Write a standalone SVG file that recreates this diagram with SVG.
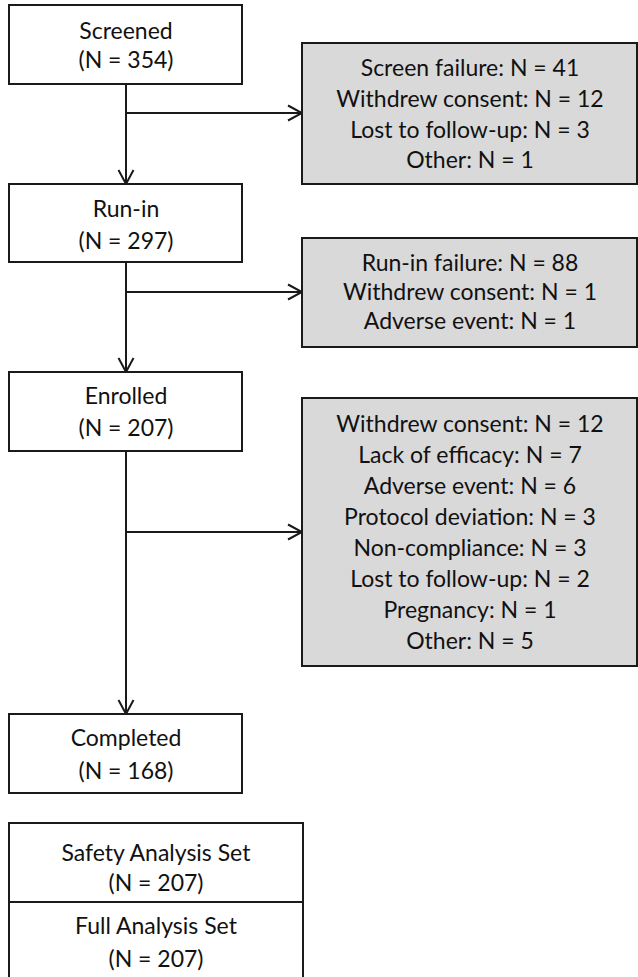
<svg xmlns="http://www.w3.org/2000/svg" width="638" height="977" viewBox="0 0 638 977">
<style>
.box{fill:#ffffff;stroke:#1a1a1a;stroke-width:2}
.gbox{fill:#d9d9d9;stroke:#1a1a1a;stroke-width:2}
.t{font-family:Lato,"Liberation Sans",sans-serif;font-size:23px;fill:#111;text-anchor:middle}
.c{stroke:#1a1a1a;stroke-width:2;fill:none}
</style>
<defs>
<marker id="arr" markerUnits="userSpaceOnUse" viewBox="0 0 18 18" markerWidth="18" markerHeight="18" refX="16" refY="9" orient="auto">
<path d="M2,1.5 L16,9 L2,16.5" fill="none" stroke="#1a1a1a" stroke-width="2"/>
</marker>
</defs>
<rect width="638" height="977" fill="#ffffff"/>
<g id="connectors">
<line class="c" x1="126" y1="84" x2="126" y2="184" marker-end="url(#arr)"/>
<line class="c" x1="126" y1="113" x2="302" y2="113" marker-end="url(#arr)"/>
<line class="c" x1="126" y1="262" x2="126" y2="372" marker-end="url(#arr)"/>
<line class="c" x1="126" y1="292" x2="302" y2="292" marker-end="url(#arr)"/>
<line class="c" x1="126" y1="451" x2="126" y2="714" marker-end="url(#arr)"/>
<line class="c" x1="126" y1="532" x2="302" y2="532" marker-end="url(#arr)"/>
</g>
<g id="screened">
<rect class="box" x="9" y="5" width="233" height="79"/>
<text class="t" x="126" y="39">Screened</text>
<text class="t" x="126" y="68">(N = 354)</text>
</g>
<g id="screen-excl">
<rect class="gbox" x="302" y="43" width="335" height="141"/>
<text class="t" x="470" y="76">Screen failure: N = 41</text>
<text class="t" x="470" y="107">Withdrew consent: N = 12</text>
<text class="t" x="470" y="138">Lost to follow-up: N = 3</text>
<text class="t" x="470" y="168">Other: N = 1</text>
</g>
<g id="runin">
<rect class="box" x="9" y="184" width="233" height="78"/>
<text class="t" x="126" y="217">Run-in</text>
<text class="t" x="126" y="249">(N = 297)</text>
</g>
<g id="runin-excl">
<rect class="gbox" x="302" y="238" width="335" height="109"/>
<text class="t" x="470" y="271">Run-in failure: N = 88</text>
<text class="t" x="470" y="300">Withdrew consent: N = 1</text>
<text class="t" x="470" y="329">Adverse event: N = 1</text>
</g>
<g id="enrolled">
<rect class="box" x="9" y="372" width="233" height="79"/>
<text class="t" x="126" y="404">Enrolled</text>
<text class="t" x="126" y="436">(N = 207)</text>
</g>
<g id="enrolled-excl">
<rect class="gbox" x="302" y="398" width="335" height="268"/>
<text class="t" x="470" y="432">Withdrew consent: N = 12</text>
<text class="t" x="470" y="463">Lack of efficacy: N = 7</text>
<text class="t" x="470" y="494">Adverse event: N = 6</text>
<text class="t" x="470" y="525">Protocol deviation: N = 3</text>
<text class="t" x="470" y="556">Non-compliance: N = 3</text>
<text class="t" x="470" y="587">Lost to follow-up: N = 2</text>
<text class="t" x="470" y="618">Pregnancy: N = 1</text>
<text class="t" x="470" y="649">Other: N = 5</text>
</g>
<g id="completed">
<rect class="box" x="9" y="714" width="233" height="79"/>
<text class="t" x="126" y="746">Completed</text>
<text class="t" x="126" y="779">(N = 168)</text>
</g>
<g id="analysis-sets">
<rect class="box" x="9" y="823" width="294" height="170"/>
<line class="c" x1="9" y1="902" x2="303" y2="902"/>
<text class="t" x="156" y="861">Safety Analysis Set</text>
<text class="t" x="156" y="891">(N = 207)</text>
<text class="t" x="156" y="934">Full Analysis Set</text>
<text class="t" x="156" y="967">(N = 207)</text>
</g>
</svg>
